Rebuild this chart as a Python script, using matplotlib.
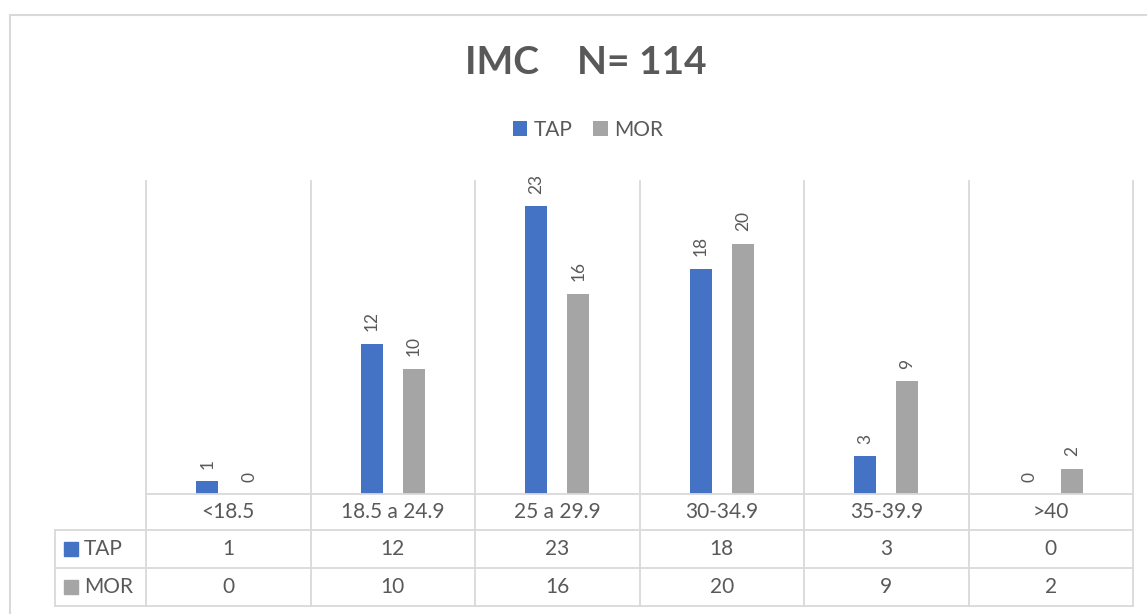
import matplotlib
matplotlib.use("Agg")
import matplotlib.pyplot as plt
from matplotlib.patches import Rectangle
import matplotlib.transforms as mtransforms
import numpy as np

categories = ["<18.5", "18.5 a 24.9", "25 a 29.9", "30-34.9", "35-39.9", ">40"]
series_names = ["TAP", "MOR"]
tap = [1, 12, 23, 18, 3, 0]
mor = [0, 10, 16, 20, 9, 2]
title = "IMC    N= 114"

BLUE = "#4472C4"
GRAY = "#A5A5A5"
TXT = "#595959"
GRID = "#D9D9D9"
plt.rcParams['font.family'] = ['Lato', 'DejaVu Sans']

W, H = 1147, 614
fig = plt.figure(figsize=(W / 100, H / 100), dpi=100)
L, R, B, T = 146, 1133, 494, 181
ax = fig.add_axes([L / W, 1 - B / H, (R - L) / W, (B - T) / H])
ax.set_xlim(-0.5, len(categories) - 0.5)
ax.set_ylim(0, 25)
ax.axis('off')

cw = (R - L) / len(categories)  # px per category
AH = B - T  # axes height px
x = np.arange(len(categories))
bw = 22 / cw
off = 21 / cw
colors = [BLUE, GRAY]
bars_all = []
for k, (vals, col) in enumerate(zip([tap, mor], colors)):
    bars = ax.bar(x + (off if k else -off), vals, bw, color=col, label=series_names[k], zorder=3)
    bars_all.append(bars)
    for rect, v in zip(bars, vals):
        ax.annotate(str(v), (rect.get_x() + rect.get_width() / 2, rect.get_height()),
                    xytext=(0, 9), textcoords='offset points', rotation=90,
                    ha='center', va='bottom', color=TXT, fontsize=12.5)

trans = mtransforms.blended_transform_factory(ax.transData, ax.transAxes)


def yf(ypx):
    return (B - ypx) / AH


rows = [494, 530, 568, 606]
left_x = -0.5 - (L - 55) / cw
lw = 1.3
# vertical grid lines
for i in range(len(categories) + 1):
    ax.plot([i - 0.5, i - 0.5], [1, yf(rows[-1])], color=GRID, lw=lw, transform=trans,
            clip_on=False, zorder=1)
# horizontal lines
ax.plot([-0.5, len(categories) - 0.5], [0, 0], color=GRID, lw=lw, transform=trans,
        clip_on=False, zorder=4)
for r in rows[1:]:
    ax.plot([left_x, len(categories) - 0.5], [yf(r), yf(r)], color=GRID, lw=lw,
            transform=trans, clip_on=False)
ax.plot([left_x, left_x], [yf(rows[1]), yf(rows[-1])], color=GRID, lw=lw,
        transform=trans, clip_on=False)

# table text
fs = 15
for i, c in enumerate(categories):
    ax.text(i, yf((rows[0] + rows[1]) / 2), c, transform=trans, ha='center', va='center',
            fontsize=fs, color=TXT)
for k, vals in enumerate([tap, mor]):
    ymid = yf((rows[k + 1] + rows[k + 2]) / 2)
    for i, v in enumerate(vals):
        ax.text(i, ymid, str(v), transform=trans, ha='center', va='center',
                fontsize=fs, color=TXT)
    sq_x = -0.5 - (L - 64) / cw
    ax.add_patch(Rectangle((sq_x, ymid - 7 / AH), 14 / cw, 14 / AH, transform=trans,
                           color=colors[k], clip_on=False))
    ax.text(-0.5 - (L - 84) / cw, ymid, series_names[k], transform=trans, ha='left',
            va='center', fontsize=fs, color=TXT)

# outer chart border
fig.add_artist(Rectangle((10 / W, -0.1), 1.2, (1 - 15 / H) + 0.1, transform=fig.transFigure,
                         fill=False, edgecolor=GRID, lw=1.5))

fig.text(586 / W, 1 - 63 / H, title, ha='center', va='center', fontsize=28,
         fontweight='bold', color=TXT)
fig.legend(handles=bars_all, labels=series_names, loc='center',
           bbox_to_anchor=(588 / W, 1 - 130 / H), ncol=2, frameon=False, fontsize=15,
           handlelength=0.7, handleheight=0.7, handletextpad=0.3, columnspacing=1.0,
           labelcolor=TXT)

fig.savefig("out.png", dpi=100)
